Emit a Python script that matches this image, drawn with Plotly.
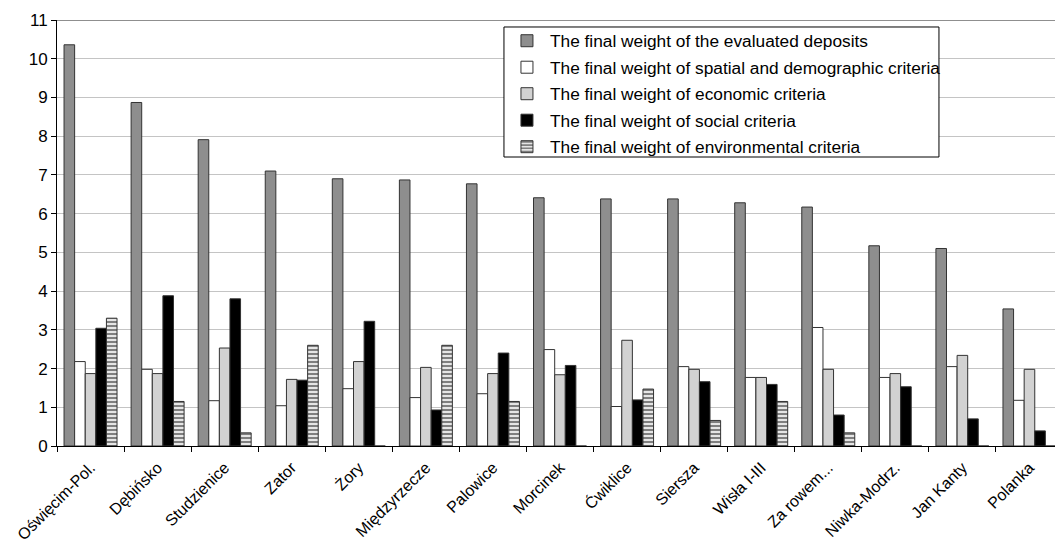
import plotly.graph_objects as go

categories = ["Oświęcim-Pol.", "Dębińsko", "Studzienice", "Zator", "Żory", "Międzyrzecze",
              "Palowice", "Morcinek", "Ćwiklice", "Siersza", "Wisła I-III", "Za rowem...",
              "Niwka-Modrz.", "Jan Kanty", "Polanka"]

deposits = [10.36, 8.87, 7.91, 7.10, 6.90, 6.87, 6.77, 6.41, 6.38, 6.38, 6.28, 6.17, 5.17, 5.10, 3.54]
spatial = [2.18, 1.98, 1.17, 1.04, 1.48, 1.25, 1.35, 2.49, 1.02, 2.05, 1.77, 3.06, 1.77, 2.05, 1.18]
economic = [1.87, 1.87, 2.53, 1.72, 2.18, 2.03, 1.87, 1.84, 2.73, 1.98, 1.77, 1.98, 1.87, 2.34, 1.98]
social = [3.04, 3.88, 3.80, 1.70, 3.22, 0.93, 2.40, 2.08, 1.19, 1.66, 1.59, 0.80, 1.53, 0.70, 0.39]
environmental = [3.30, 1.15, 0.34, 2.60, 0, 2.60, 1.15, 0, 1.47, 0.66, 1.15, 0.34, 0, 0, 0]

series_names = ["The final weight of the evaluated deposits",
                "The final weight of spatial and demographic criteria",
                "The final weight of economic criteria",
                "The final weight of social criteria",
                "The final weight of environmental criteria"]

y_ticks = list(range(0, 12))

FONT = "Liberation Sans, Arial, sans-serif"

fig = go.Figure()
styles = [
    dict(color="#8e8e8e"),
    dict(color="#ffffff"),
    dict(color="#d2d2d2"),
    dict(color="#000000"),
    dict(color="#ffffff", pattern=dict(shape="-", fgcolor="#000000", bgcolor="#ffffff", size=4, solidity=0.6)),
]
for i, (name, vals) in enumerate(zip(series_names, [deposits, spatial, economic, social, environmental])):
    fig.add_trace(go.Bar(
        x=categories, y=vals, name=name, legendgroup=str(i),
        marker=dict(line=dict(color="#333333", width=1), **styles[i]),
    ))

# page body has an 8px margin, so the figure is made 8px smaller and margins reduced
fig.update_layout(
    width=1055, height=540,
    margin=dict(l=49, r=0, t=12, b=102),
    paper_bgcolor="white", plot_bgcolor="white",
    barmode="group", bargap=0.21, bargroupgap=0,
    font=dict(family=FONT, size=17, color="#000000"),
    legend=dict(x=0.4443, y=0.993, xanchor="left", yanchor="top",
                borderwidth=0, bgcolor="rgba(0,0,0,0)",
                font=dict(family=FONT, size=17.3), tracegroupgap=1,
                itemwidth=36),
    showlegend=True,
)
fig.update_yaxes(range=[0, 11], tickvals=y_ticks, showgrid=True, gridcolor="#c4c4c4", gridwidth=1,
                 showline=True, linecolor="#000000", linewidth=1, ticks="outside", ticklen=5,
                 tickcolor="#000000", tickfont=dict(size=17), zeroline=False, automargin=False)
fig.update_xaxes(tickangle=-45, showline=True, linecolor="#000000", linewidth=1,
                 ticks="outside", ticklen=5, tickcolor="#000000", tickson="boundaries",
                 tickfont=dict(size=16), showgrid=False, automargin=False, ticklabelstandoff=5)
fig.add_shape(type="line", xref="paper", yref="y", x0=0, x1=1, y0=11, y1=11,
              line=dict(color="#6a6a6a", width=1.5))
# legend frame
fig.add_shape(type="rect", xref="paper", yref="paper", x0=0.4443, x1=0.8767, y0=0.6784, y1=0.9836,
              line=dict(color="#000000", width=1), fillcolor="white", layer="above")

fig.write_html("out.html")
